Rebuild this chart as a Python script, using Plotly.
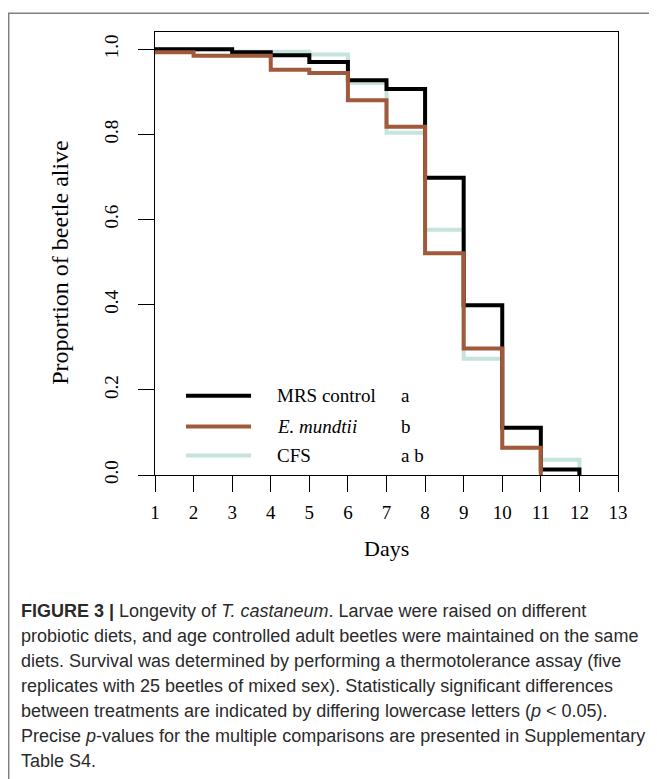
import plotly.graph_objects as go

# ---- data ----
days_mrs = [1, 2, 3, 4, 5, 6, 7, 8, 9, 10, 11, 12]
mrs_control = [1.0, 1.0, 0.993, 0.986, 0.970, 0.927, 0.907, 0.698, 0.399, 0.111, 0.013, 0.0]

days_emun = [1, 2, 3, 4, 5, 6, 7, 8, 9, 10, 11]
e_mundtii = [0.993, 0.985, 0.985, 0.952, 0.944, 0.880, 0.818, 0.521, 0.297, 0.064, 0.0]

days_cfs = [1, 2, 3, 4, 5, 6, 7, 8, 9, 10, 11, 12]
cfs = [1.0, 1.0, 0.994, 0.994, 0.988, 0.921, 0.804, 0.576, 0.273, 0.064, 0.036, 0.0]

x_ticks = list(range(1, 14))
y_ticks = [0.0, 0.2, 0.4, 0.6, 0.8, 1.0]

series_names = ["MRS control", "<i>E. mundtii</i>", "CFS"]
series_letters = ["a", "b", "a b"]
colors = ["#000000", "#A0593A", "#C6E3DD"]

caption_lines = [
    "<b>FIGURE 3 |</b> Longevity of <i>T. castaneum</i>. Larvae were raised on different",
    "probiotic diets, and age controlled adult beetles were maintained on the same",
    "diets. Survival was determined by performing a thermotolerance assay (five",
    "replicates with 25 beetles of mixed sex). Statistically significant differences",
    "between treatments are indicated by differing lowercase letters (<i>p</i> &lt; 0.05).",
    "Precise <i>p</i>-values for the multiple comparisons are presented in Supplementary",
    "Table S4.",
]

# ---- geometry (pixels in the screenshot; page has 8px body margin) ----
OFF = 8
W, H = 657 - OFF, 779 - OFF
L, R, T, B = 155 - OFF, 617.7 - OFF, 31.7 - OFF, 475.5 - OFF
pw, ph = R - L, B - T


def px(x):
    return (x - OFF - L) / pw


def py(y):
    return (B - (y - OFF)) / ph


SERIF = "Liberation Serif, Times New Roman, serif"

fig = go.Figure()
for xs, ys, c, n in [(days_cfs, cfs, colors[2], "CFS"),
                     (days_mrs, mrs_control, colors[0], "MRS control"),
                     (days_emun, e_mundtii, colors[1], "E. mundtii")]:
    fig.add_trace(go.Scatter(x=xs, y=ys, mode="lines", line=dict(color=c, width=4, shape="hv"),
                             name=n, showlegend=False, hoverinfo="skip"))

shapes = []
annotations = []

# legend
leg_y = [396, 427, 456]
for i in range(3):
    shapes.append(dict(type="line", xref="paper", yref="paper", x0=px(186), x1=px(251),
                       y0=py(leg_y[i]), y1=py(leg_y[i]), line=dict(color=colors[i], width=4)))
    annotations.append(dict(xref="paper", yref="paper", x=px(275), y=py(leg_y[i]), text=series_names[i],
                            showarrow=False, xanchor="left", yanchor="middle",
                            font=dict(family=SERIF, size=19, color="black")))
    annotations.append(dict(xref="paper", yref="paper", x=px(399), y=py(leg_y[i]), text=series_letters[i],
                            showarrow=False, xanchor="left", yanchor="middle",
                            font=dict(family=SERIF, size=19, color="black")))

# outer frame
shapes.append(dict(type="path", xref="paper", yref="paper",
                   path=f"M {px(8.8)} {py(800)} L {px(8.8)} {py(13)} L {px(680)} {py(13)}",
                   line=dict(color="#808080", width=1.5)))

# caption
cap_y = [612, 637, 662, 687, 712, 737, 762]
for t, yy in zip(caption_lines, cap_y):
    annotations.append(dict(xref="paper", yref="paper", x=px(19), y=py(yy), text=t,
                            showarrow=False, xanchor="left", yanchor="middle",
                            font=dict(family="Liberation Sans, Arial, sans-serif", size=18, color="#2a2a2a")))

# axis titles
annotations.append(dict(xref="paper", yref="paper", x=px(386), y=py(549), text="Days", showarrow=False,
                        xanchor="center", yanchor="middle", font=dict(family=SERIF, size=22, color="black")))
annotations.append(dict(xref="paper", yref="paper", x=px(60), y=py(262), text="Proportion of beetle alive",
                        showarrow=False, textangle=-90, xanchor="center", yanchor="middle",
                        font=dict(family=SERIF, size=24, color="black")))

fig.update_layout(
    width=W, height=H,
    margin=dict(l=L, r=W - R, t=T, b=H - B, pad=0),
    paper_bgcolor="white", plot_bgcolor="white",
    shapes=shapes, annotations=annotations,
    showlegend=False,
)
fig.update_xaxes(range=[1, 13], tickvals=x_ticks, ticktext=[str(v) for v in x_ticks],
                 ticks="outside", ticklen=16, tickwidth=1.3, tickcolor="black",
                 showline=True, linecolor="black", linewidth=1.3, mirror=True,
                 showgrid=False, zeroline=False, ticklabelstandoff=4,
                 tickfont=dict(family=SERIF, size=19, color="black"))
fig.update_yaxes(range=[0, 1.0406], tickvals=y_ticks, ticktext=[f"{v:.1f}" for v in y_ticks],
                 ticks="outside", ticklen=16, tickwidth=1.3, tickcolor="black", tickangle=-90,
                 showline=True, linecolor="black", linewidth=1.3, mirror=True,
                 showgrid=False, zeroline=False, ticklabelstandoff=12,
                 tickfont=dict(family=SERIF, size=19, color="black"))

fig.write_html("out.html")
